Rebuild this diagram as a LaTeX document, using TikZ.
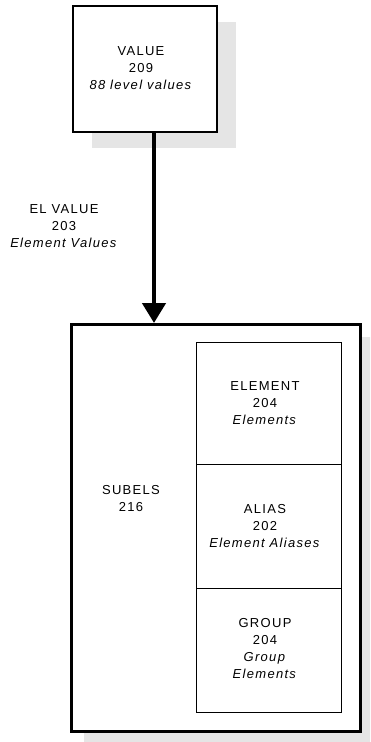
\documentclass[tikz,border=0pt]{standalone}
\usepackage{fontspec}
\setmainfont[LetterSpace=10]{Liberation Sans}
\usetikzlibrary{arrows.meta}
\begin{document}
\begin{tikzpicture}[x=1pt,y=-1pt,
  lbl/.style={align=center,inner sep=0pt,font=\fontsize{13}{17}\selectfont},
  box/.style={draw=black,rectangle,inner sep=0pt,anchor=north west},
  shadow/.style={fill=black!10,draw=none},
  conn/.style={line width=4.5pt,-{Triangle[width=23pt,length=20pt]}}]
\useasboundingbox (0,0) rectangle (370,742);
\begin{scope}
\clip (0,0) rectangle (370,742);
\fill[shadow] (92,22) rectangle (236,148);
\fill[shadow] (84,337) rectangle (373,746);
\end{scope}
% VALUE box
\node[box,line width=1.8pt,fill=white,minimum width=144pt,minimum height=126pt] (value) at (72,5) {};
\node[lbl] (valuet) at (141,68) {VALUE\\209\\\textit{88 level values}};
% big box
\node[box,line width=3pt,fill=white,minimum width=289pt,minimum height=407pt] (subels) at (70,323) {};
\node[lbl] (subelst) at (131,498.5) {SUBELS\\216};
% inner boxes
\node[box,line width=1.3pt,minimum width=145pt,minimum height=122pt] (element) at (196,342) {};
\node[box,line width=1.3pt,minimum width=145pt,minimum height=124pt] (alias) at (196,464) {};
\node[box,line width=1.3pt,minimum width=145pt,minimum height=124pt] (group) at (196,588) {};
\node[lbl] (elementt) at (265,403) {ELEMENT\\204\\\textit{Elements}};
\node[lbl] (aliast) at (265,526) {ALIAS\\202\\\textit{Element Aliases}};
\node[lbl] (groupt) at (265,648.5) {GROUP\\204\\\textit{Group}\\\textit{Elements}};
% connector
\coordinate (ax) at (154,0);
\draw[conn] (value.south -| ax) -- (subels.north -| ax);
\node[lbl] (elvalue) at (64,226) {EL VALUE\\203\\\textit{Element Values}};
\end{tikzpicture}
\end{document}
